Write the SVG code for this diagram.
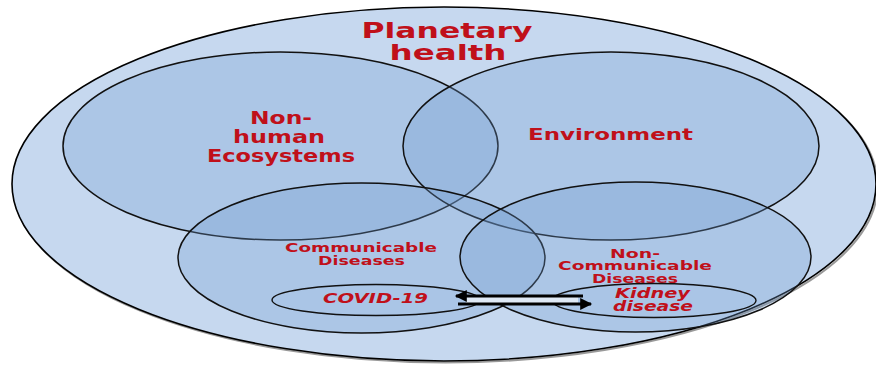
<svg xmlns="http://www.w3.org/2000/svg" width="876" height="365" viewBox="0 0 876 365">
<style>
.outer{fill:#c6d8ef;stroke:#000;stroke-width:1.6}
.shadow{fill:none;stroke:#555;stroke-width:2;stroke-opacity:0.6}
.set{fill:#6f9bd1;fill-opacity:0.3;stroke:#111;stroke-width:1.5}
.sub{fill:#a9c4e6;fill-opacity:0.55;stroke:#111;stroke-width:1.4}
text{font-family:"DejaVu Sans","Verdana",sans-serif;font-weight:bold;fill:#c0101a;text-anchor:middle}
.it{font-style:italic}
.arr{stroke:#000;stroke-width:3;fill:none}
</style>
<defs>
<marker id="ah" viewBox="0 0 10 10" refX="9" refY="5" markerWidth="5" markerHeight="4" markerUnits="strokeWidth" orient="auto">
<path d="M0,0 L10,5 L0,10 z" fill="#000"/>
</marker>
</defs>
<g id="planetary-health">
<ellipse class="shadow" cx="445.5" cy="185.5" rx="432" ry="177"/>
<ellipse class="outer" cx="444" cy="184" rx="432" ry="177"/>
<text x="447" y="38" font-size="22" textLength="171" lengthAdjust="spacingAndGlyphs">Planetary</text>
<text x="448" y="60" font-size="22" textLength="117" lengthAdjust="spacingAndGlyphs">health</text>
</g>
<g id="non-human-ecosystems">
<ellipse class="set" cx="280.5" cy="146" rx="217.5" ry="94"/>
<text x="281" y="124" font-size="17" textLength="62" lengthAdjust="spacingAndGlyphs">Non-</text>
<text x="279" y="143" font-size="17" textLength="92" lengthAdjust="spacingAndGlyphs">human</text>
<text x="281" y="162" font-size="17" textLength="148" lengthAdjust="spacingAndGlyphs">Ecosystems</text>
</g>
<g id="environment">
<ellipse class="set" cx="611" cy="146" rx="208" ry="94"/>
<text x="610.5" y="140" font-size="15" textLength="165" lengthAdjust="spacingAndGlyphs">Environment</text>
</g>
<g id="communicable-diseases">
<ellipse class="set" cx="361.5" cy="258" rx="183.5" ry="75"/>
<text x="361" y="252" font-size="12.5" textLength="152" lengthAdjust="spacingAndGlyphs">Communicable</text>
<text x="361.5" y="264.5" font-size="12.5" textLength="87" lengthAdjust="spacingAndGlyphs">Diseases</text>
</g>
<g id="non-communicable-diseases">
<ellipse class="set" cx="635.5" cy="257" rx="175.5" ry="75"/>
<text x="635" y="257.5" font-size="12.5" textLength="50" lengthAdjust="spacingAndGlyphs">Non-</text>
<text x="635" y="270" font-size="12.5" textLength="154" lengthAdjust="spacingAndGlyphs">Communicable</text>
<text x="635" y="282.5" font-size="12.5" textLength="86" lengthAdjust="spacingAndGlyphs">Diseases</text>
</g>
<g id="covid-19">
<ellipse class="sub" cx="376" cy="300" rx="104" ry="15.5"/>
<text class="it" x="375.5" y="302.5" font-size="14" textLength="105" lengthAdjust="spacingAndGlyphs">COVID-19</text>
</g>
<g id="kidney-disease">
<ellipse class="sub" cx="654" cy="300.5" rx="102" ry="17"/>
<text class="it" x="652.5" y="298" font-size="13.5" textLength="75" lengthAdjust="spacingAndGlyphs">Kidney</text>
<text class="it" x="653" y="311" font-size="13.5" textLength="80" lengthAdjust="spacingAndGlyphs">disease</text>
</g>
<g id="connectors">
<rect x="466" y="297" width="112" height="6" fill="#dfe9f5"/>
<line class="arr" x1="583" y1="296" x2="456" y2="296" marker-end="url(#ah)"/>
<line class="arr" x1="458" y1="304" x2="591" y2="304" marker-end="url(#ah)"/>
</g>
</svg>
